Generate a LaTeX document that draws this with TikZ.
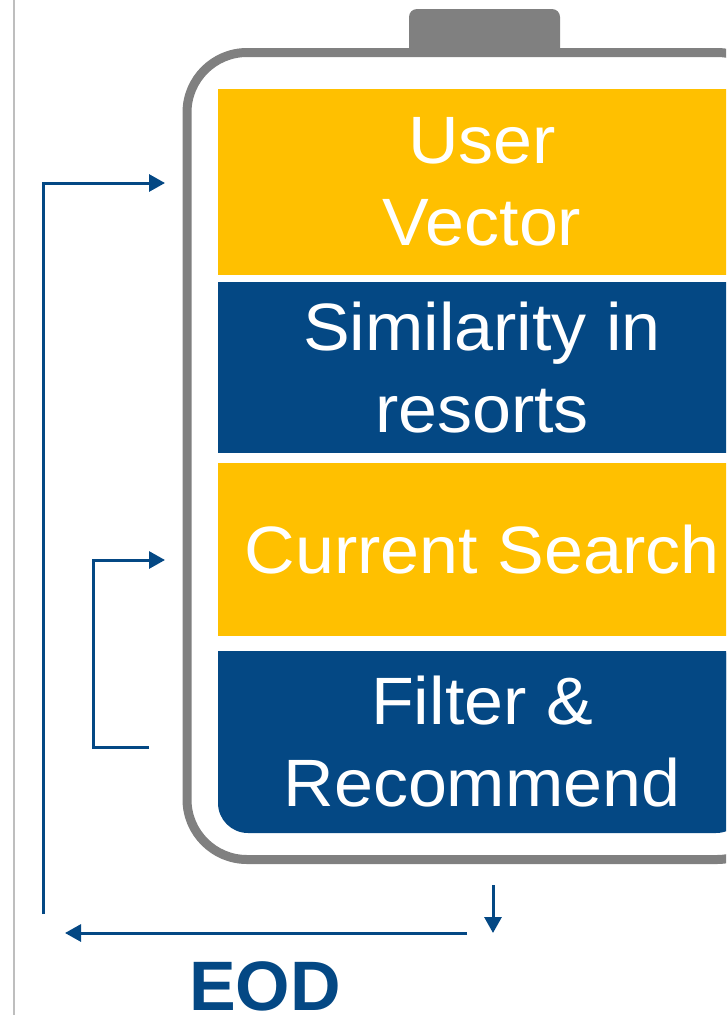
\documentclass[tikz,border=0pt]{standalone}
\usepackage{fontspec}
\setmainfont{Liberation Sans}
\newfontfamily\widefont[FakeStretch=1.045]{Liberation Sans}
\usetikzlibrary{arrows.meta}
\definecolor{batgray}{RGB}{128,128,128}
\definecolor{blockyellow}{RGB}{255,192,0}
\definecolor{blockblue}{RGB}{4,72,132}
\definecolor{rulegray}{RGB}{190,190,190}
\tikzset{
  blocktext/.style={text=white, align=center, inner sep=0pt, font=\widefont\fontsize{67}{82}\selectfont},
  flow/.style={draw=blockblue, line width=3pt},
  flowarrow/.style={flow, -{Triangle[length=16pt,width=17pt]}},
}
\begin{document}
\begin{tikzpicture}[x=1pt,y=-1pt]
\useasboundingbox (0,0) rectangle (726,1015);
\clip (0,0) rectangle (726,1015);
% left rule
\draw[rulegray, line width=2pt] (14,0) -- (14,1015);
% battery cap
\fill[batgray, rounded corners=8pt] (409,56) rectangle (560,9);
% battery outline
\node[draw=batgray, line width=9pt, rounded corners=60pt, minimum width=590pt,
      minimum height=807pt, inner sep=0pt] (battery) at (482,456) {};
% blocks
\fill[blockyellow] (218,89) rectangle (746,275);
\fill[blockblue] (218,282) rectangle (746,453);
\fill[blockyellow] (218,463) rectangle (746,636);
\fill[blockblue, rounded corners=30pt] (218,651) rectangle (746,833);
\fill[blockblue] (218,651) rectangle (746,700);
% texts
\node[blocktext] (user) at (482,182) {User\\Vector};
\node[blocktext] (sim) at (482,367.5) {Similarity in\\resorts};
\node[blocktext] (cur) at (482,549.5) {Current Search};
\node[blocktext] (filt) at (482,742) {Filter \&\\Recommend};
% connectors
\coordinate (bigstart) at (43,914);
\coordinate (bigcorner) at (43,183);
\coordinate (bigend) at (165,183);
\draw[flowarrow] (bigstart) -- (bigcorner) -- (bigend);
\coordinate (smallstart) at (149,747);
\coordinate (smallc1) at (93,747);
\coordinate (smallc2) at (93,560);
\coordinate (smallend) at (165,560);
\draw[flowarrow] (smallstart) -- (smallc1) -- (smallc2) -- (smallend);
\coordinate (downstart) at (493,885);
\coordinate (downend) at (493,933);
\draw[flowarrow] (downstart) -- (downend);
\coordinate (eodstart) at (467,933);
\coordinate (eodend) at (65,933);
\draw[flowarrow] (eodstart) -- (eodend);
\node[text=blockblue, font=\fontsize{70}{78}\selectfont\bfseries, anchor=base, inner sep=0pt, text depth=0pt] (eod) at (265,1010) {EOD};
\end{tikzpicture}
\end{document}
